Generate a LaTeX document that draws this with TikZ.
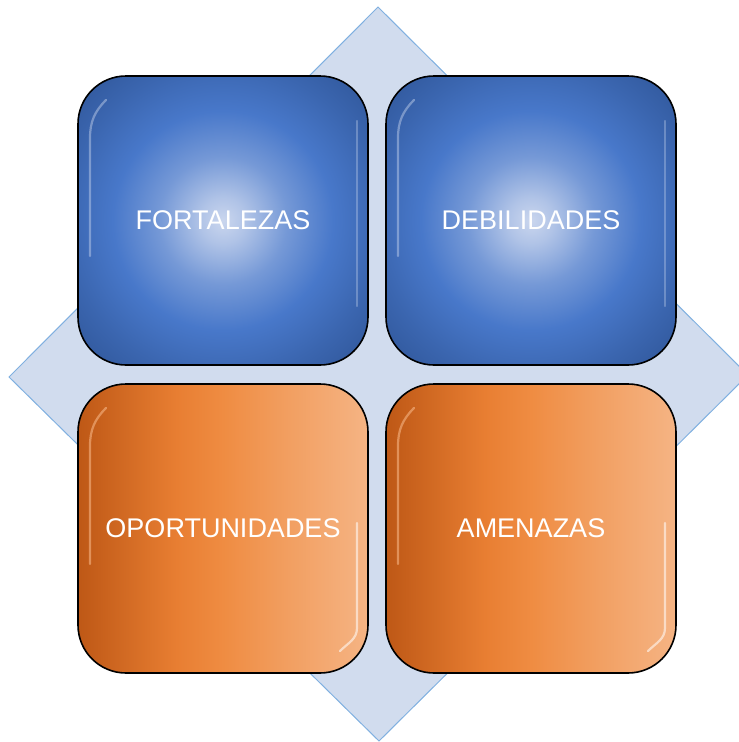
\documentclass[tikz,border=0pt]{standalone}
\usepackage{fontspec}
\setmainfont{Liberation Sans}
\usetikzlibrary{positioning}
\usepackage{xcolor}

\definecolor{diafill}{RGB}{209,220,238}
\definecolor{diadraw}{RGB}{128,176,224}
\definecolor{bluelight}{RGB}{202,214,238}
\definecolor{bluemid}{RGB}{72,120,202}
\definecolor{bluedark}{RGB}{46,84,150}
\definecolor{orangeA}{RGB}{190,88,22}
\definecolor{orangeB}{RGB}{232,126,50}
\definecolor{orangeC}{RGB}{239,140,66}
\definecolor{orangeD}{RGB}{245,180,132}

\pgfdeclareradialshading{blueglow}{\pgfpoint{0bp}{0bp}}{color(0bp)=(bluelight); color(4bp)=(bluelight!80!bluemid); color(11bp)=(bluelight!35!bluemid); color(19bp)=(bluemid); color(27bp)=(bluemid!50!bluedark); color(36bp)=(bluedark); color(50bp)=(bluedark)}
\pgfdeclarehorizontalshading{orangeside}{100bp}{color(0bp)=(orangeA); color(25bp)=(orangeA); color(42bp)=(orangeB); color(50bp)=(orangeC); color(62bp)=(orangeC!50!orangeD); color(75bp)=(orangeD); color(100bp)=(orangeD)}

\begin{document}
\begin{tikzpicture}[
x=1pt, y=-1pt,
node distance=18pt,
quad/.style={draw=black, line width=1.6pt, rounded corners=48pt, minimum width=290pt, minimum height=289pt, inner sep=0pt, outer sep=0pt, text=white, font=\fontsize{27}{32}\selectfont},
bluebox/.style={quad, shading=blueglow},
orangebox/.style={quad, shading=orangeside},
gloss/.style={line width=2.2pt, line cap=round} ]

\useasboundingbox (0,0) rectangle (739,742);
\clip (0,0) rectangle (739,742);

% fondo en rombo
\draw[fill=diafill, draw=diadraw, line width=1pt] (378,7) -- (748,375) -- (379,741) -- (9,377) -- cycle;

\node[bluebox] (fort) at (223,220.5) {FORTALEZAS};
\node[bluebox, right=of fort] (debil) {DEBILIDADES};
\node[orangebox, below=19pt of fort] (oport) {OPORTUNIDADES};
\node[orangebox, below=19pt of debil] (amen) {AMENAZAS};

% brillos
\draw[gloss, color=bluelight, opacity=0.45] ([xshift=28pt,yshift=-24pt]fort.north west) to[out=225,in=90] ([xshift=12pt,yshift=-62pt]fort.north west) -- ([xshift=12pt,yshift=-180pt]fort.north west);
\draw[gloss, color=bluelight, opacity=0.45] ([xshift=28pt,yshift=-24pt]debil.north west) to[out=225,in=90] ([xshift=12pt,yshift=-62pt]debil.north west) -- ([xshift=12pt,yshift=-180pt]debil.north west);
\draw[gloss, color=bluelight, opacity=0.35] ([xshift=-11pt,yshift=-45pt]fort.north east) -- ([xshift=-11pt,yshift=-230pt]fort.north east);
\draw[gloss, color=bluelight, opacity=0.35] ([xshift=-11pt,yshift=-45pt]debil.north east) -- ([xshift=-11pt,yshift=-230pt]debil.north east);
\draw[gloss, color=orangeD, opacity=0.6] ([xshift=28pt,yshift=-24pt]oport.north west) to[out=225,in=90] ([xshift=12pt,yshift=-62pt]oport.north west) -- ([xshift=12pt,yshift=-180pt]oport.north west);
\draw[gloss, color=orangeD, opacity=0.6] ([xshift=28pt,yshift=-24pt]amen.north west) to[out=225,in=90] ([xshift=12pt,yshift=-62pt]amen.north west) -- ([xshift=12pt,yshift=-180pt]amen.north west);
\draw[gloss, color=white, opacity=0.55] ([xshift=-11pt,yshift=150pt]oport.south east) -- ([xshift=-11pt,yshift=45pt]oport.south east) to[out=270,in=45] ([xshift=-28pt,yshift=22pt]oport.south east);
\draw[gloss, color=white, opacity=0.55] ([xshift=-11pt,yshift=150pt]amen.south east) -- ([xshift=-11pt,yshift=45pt]amen.south east) to[out=270,in=45] ([xshift=-28pt,yshift=22pt]amen.south east);

\end{tikzpicture}
\end{document}
